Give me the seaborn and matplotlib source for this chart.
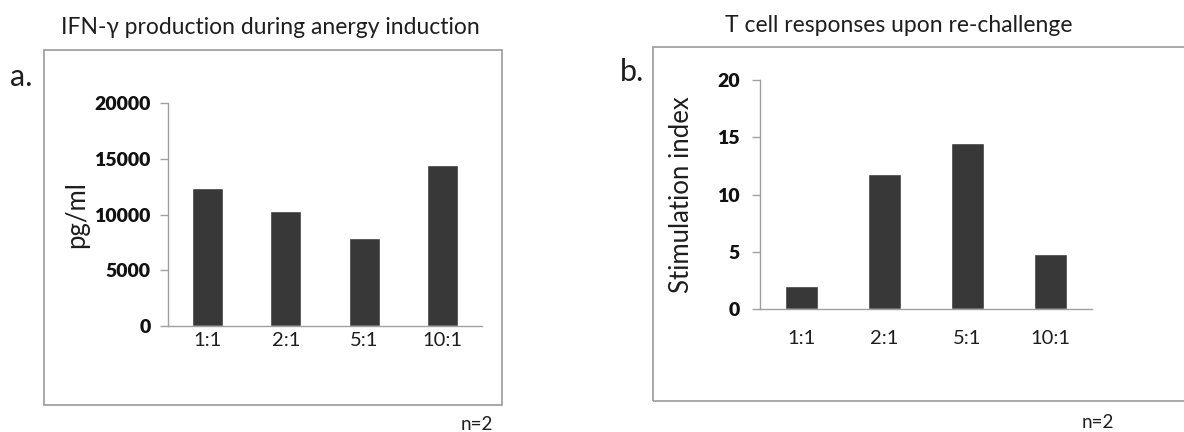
import matplotlib
matplotlib.use("Agg")
import matplotlib.pyplot as plt
import seaborn as sns
import pandas as pd
from matplotlib.patches import Rectangle

# Effector:target ratios used in the anergy assay
ratios = ["1:1", "2:1", "5:1", "10:1"]
# IFN-gamma in supernatant during anergy induction (pg/ml)
ifn_gamma = [12400, 10300, 7900, 14400]
# Stimulation index on re-challenge
stim_index = [2.0, 11.8, 14.5, 4.8]

sns.set_theme(style="white")
plt.rcParams["font.family"] = ["Lato", "DejaVu Sans"]

W, H = 1184, 432
fig = plt.figure(figsize=(W / 100, H / 100), dpi=100)
fig.patch.set_facecolor("white")

BAR = "#383838"
AXC = "#a0a0a0"
TXT = "#1e1e1e"


def px_axes(left, right, top, bottom):
    return fig.add_axes([left / W, 1 - bottom / H, (right - left) / W, (bottom - top) / H])


def frame(left, right, top, bottom):
    fig.add_artist(Rectangle((left / W, 1 - bottom / H), (right - left) / W, (bottom - top) / H,
                             transform=fig.transFigure, fill=False, edgecolor="#9a9a9a", lw=1.2))


def style(ax, ymax, step, ylabel, xpad, ypad):
    ax.set_ylim(0, ymax)
    ax.set_yticks(range(0, ymax + 1, step))
    ax.set_xlim(-0.5, 3.5)
    sns.despine(ax=ax)
    for s in ("left", "bottom"):
        ax.spines[s].set_color(AXC)
        ax.spines[s].set_linewidth(1.0)
    ax.tick_params(axis="y", which="major", left=True, length=6, width=1, color=AXC,
                   labelsize=14, pad=ypad)
    ax.tick_params(axis="x", bottom=False, length=0, labelsize=14.5, pad=xpad, colors=TXT)
    for t in ax.get_yticklabels():
        t.set_fontweight("heavy")
        t.set_color("#111111")
    ax.set_xlabel("")
    ax.set_ylabel(ylabel, fontsize=18.5, color=TXT)
    ax.grid(False)


# Panel a
frame(44, 502, 50, 405)
ax1 = px_axes(168, 482, 103, 326)
sns.barplot(x=ratios, y=ifn_gamma, color=BAR, width=0.39, saturation=1, ax=ax1)
style(ax1, 20000, 5000, "pg/ml", 4, 6.5)
ax1.yaxis.set_label_coords(-0.25, 0.5)
fig.text(270 / W, 1 - 28 / H, "IFN-γ production during anergy induction", ha="center", va="center",
         fontsize=16.5, color=TXT)
fig.text(10 / W, 1 - 77 / H, "a.", ha="left", va="center", fontsize=22, color=TXT)
fig.text(477 / W, 1 - 425 / H, "n=2", ha="center", va="center", fontsize=13.5, color=TXT)

# Panel b
frame(653, 1200, 47, 401)
ax2 = px_axes(760, 1092, 80, 309)
sns.barplot(x=ratios, y=stim_index, color=BAR, width=0.39, saturation=1, ax=ax2)
style(ax2, 20, 5, "Stimulation index", 15, 8.5)
ax2.yaxis.set_label_coords(-0.2, 0.5)
fig.text(899 / W, 1 - 25 / H, "T cell responses upon re-challenge", ha="center", va="center",
         fontsize=16.5, color=TXT)
fig.text(620 / W, 1 - 72 / H, "b.", ha="left", va="center", fontsize=22, color=TXT)
fig.text(1098 / W, 1 - 423 / H, "n=2", ha="center", va="center", fontsize=13.5, color=TXT)

fig.savefig("out.png", dpi=100, facecolor="white")
